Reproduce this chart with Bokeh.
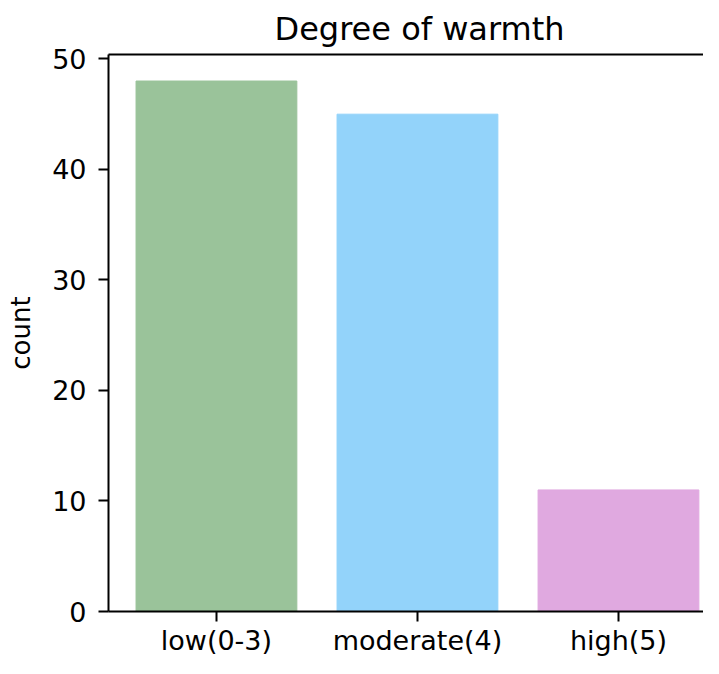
from bokeh.plotting import figure
from bokeh.models import Range1d, FixedTicker, LinearAxis
from bokeh.embed import file_html
from bokeh.resources import INLINE

categories = ["low(0-3)", "moderate(4)", "high(5)"]
counts = [48, 45, 11]
colors = ["#9ac39a", "#93d3fa", "#e0a9e0"]
y_ticks = [0, 10, 20, 30, 40, 50]

FONT = "DejaVu Sans"

p = figure(width=703, height=658, output_backend="svg", toolbar_location=None,
           x_range=Range1d(-0.537, 2.423), y_range=Range1d(0, 50.4),
           min_border_left=108, min_border_right=0, min_border_top=51, min_border_bottom=20)

xs = list(range(len(categories)))
p.vbar(x=xs, width=0.8, bottom=0, top=counts, fill_color=colors, line_color=colors, line_width=1)

p.title.text = "Degree of warmth"
p.title.text_font = FONT
p.title.text_font_size = "32px"
p.title.text_font_style = "normal"
p.title.text_color = "#000000"
p.title.align = "left"
p.title.offset = 166
p.title.standoff = 14

p.outline_line_color = None
p.xgrid.visible = False
p.ygrid.visible = False

for ax in (p.xaxis[0], p.yaxis[0]):
    ax.axis_line_width = 2
    ax.axis_line_color = "#000000"
    ax.major_tick_line_width = 2
    ax.major_tick_line_color = "#000000"
    ax.major_tick_out = 10
    ax.major_tick_in = 0
    ax.minor_tick_line_color = None
    ax.major_label_text_font = FONT
    ax.major_label_text_font_size = "27px"
    ax.major_label_text_color = "#000000"

p.xaxis[0].ticker = FixedTicker(ticks=xs)
p.xaxis[0].major_label_overrides = {i: c for i, c in enumerate(categories)}
p.xaxis[0].major_label_standoff = 3

p.yaxis[0].ticker = FixedTicker(ticks=y_ticks)
p.yaxis[0].major_label_standoff = 12
p.yaxis[0].axis_label = "count"
p.yaxis[0].axis_label_text_font = FONT
p.yaxis[0].axis_label_text_font_size = "26px"
p.yaxis[0].axis_label_text_font_style = "normal"
p.yaxis[0].axis_label_text_color = "#000000"
p.yaxis[0].axis_label_standoff = 13

top = LinearAxis(ticker=FixedTicker(ticks=[]), axis_line_width=2, axis_line_color="#000000",
                 major_tick_line_color=None, minor_tick_line_color=None,
                 major_label_text_font_size="0px")
p.add_layout(top, "above")

open("out.html", "w").write(file_html(p, INLINE))
